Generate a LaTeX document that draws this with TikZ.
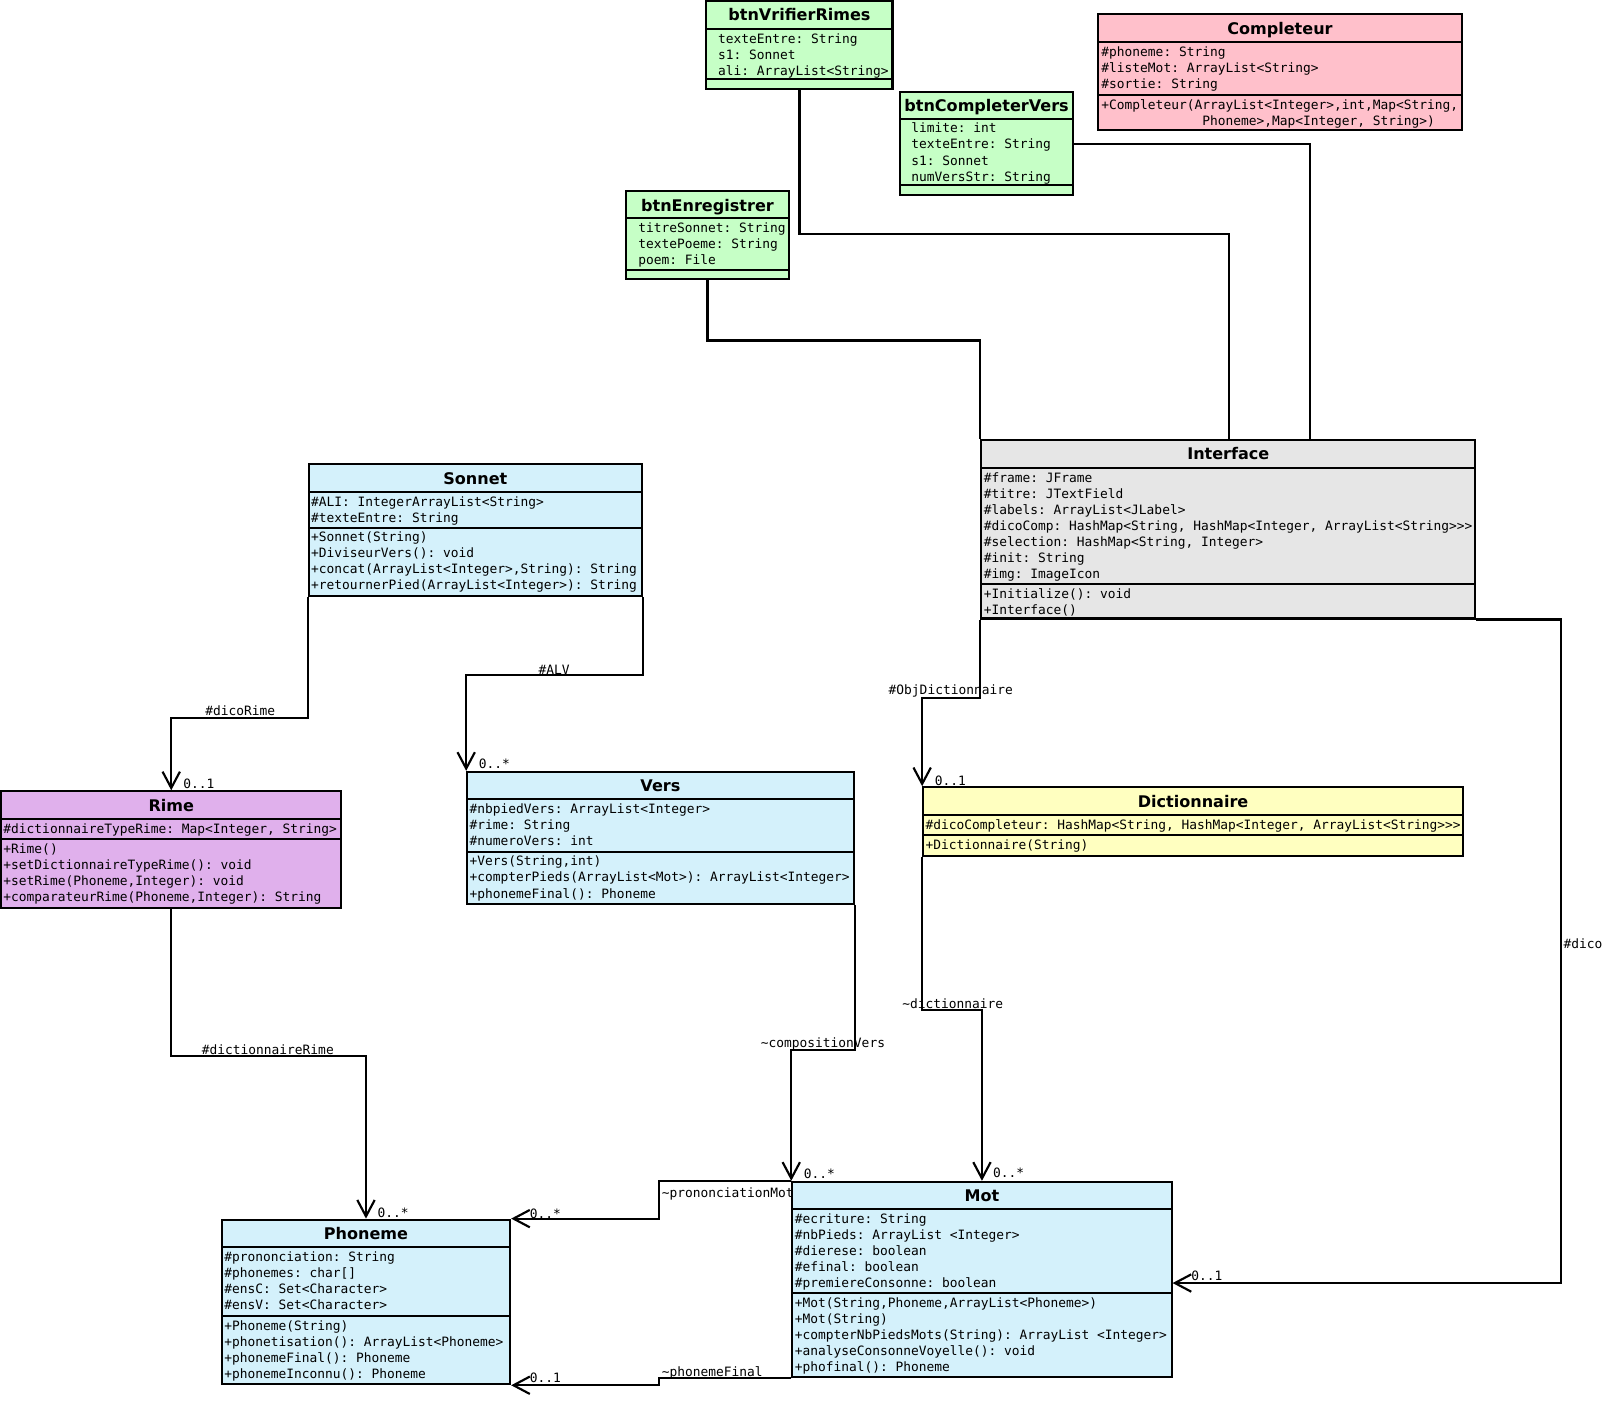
\documentclass[tikz,border=0pt]{standalone}
\usepackage{fontspec}
\setmonofont{DejaVu Sans Mono}
\newfontfamily\titlefont{DejaVu Sans}[BoldFont={DejaVu Sans Bold}]
\usetikzlibrary{arrows.meta,fit,calc}
\definecolor{cgreen}{RGB}{198,255,198}
\definecolor{cpink}{RGB}{255,192,203}
\definecolor{cgray}{RGB}{230,230,230}
\definecolor{cblue}{RGB}{212,241,251}
\definecolor{clilac}{RGB}{224,176,236}
\definecolor{cyellow}{RGB}{255,255,192}
\tikzset{
  classbox/.style={draw=black,line width=1pt,inner sep=0pt},
  boxline/.style={draw=black,line width=1pt},
  titletext/.style={font=\titlefont\bfseries\fontsize{7.85}{9}\selectfont,inner sep=0pt},
  membertext/.style={font=\ttfamily\fontsize{6.3}{7.85}\selectfont,inner sep=0pt,align=left},
  lbl/.style={font=\ttfamily\fontsize{6.3}{7.85}\selectfont,inner sep=0pt},
  conn/.style={draw=black,line width=1.05pt},
  arr/.style={conn,-{Straight Barb[length=8pt,width=8.5pt,line width=1.05pt]}},
}
\newcommand\umlbox[9]{%
  \node[classbox,fill=#8,fit={(#2,#3) (#4,#5)}] (#1) {};
  \draw[boxline] (#2,#6) -- (#4,#6);
  \draw[boxline] (#2,#7) -- (#4,#7);
  \node[titletext,anchor=base] (#1-t) at ({(#2+#4)/2},{#3+19.5}) {#9};
}
% name, x, first baseline, number of lines, text
\newcommand\members[5]{%
  \node[membertext,anchor=base west] (#1) at (#2,{#3+(#4-1)*15.7}) {#5};
}
\begin{document}
\begin{tikzpicture}[x=0.5pt,y=-0.5pt]
\useasboundingbox[fill=white] (0,0) rectangle (1568,1372);

% ---------- classes ----------
\umlbox{vr}{691}{1}{873}{87}{28}{77}{cgreen}{btnVrifierRimes}
\members{vr-a}{702}{42.5}{3}{texteEntre: String\\s1: Sonnet\\ali: ArrayList<String>}

\umlbox{comp}{1074}{14}{1430}{127}{41}{93}{cpink}{Completeur}
\members{comp-a}{1077}{55}{3}{\#phoneme: String\\\#listeMot: ArrayList<String>\\\#sortie: String}
\members{comp-m}{1077}{107}{2}{+Completeur(ArrayList<Integer>,int,Map<String,\\\phantom{xxxxxxxxxxxxx}Phoneme>,Map<Integer, String>)}

\umlbox{cv}{880}{90}{1050}{191}{116}{181}{cgreen}{btnCompleterVers}
\members{cv-a}{891}{130}{4}{limite: int\\texteEntre: String\\s1: Sonnet\\numVersStr: String}

\umlbox{en}{612}{187}{772}{273}{213}{264}{cgreen}{btnEnregistrer}
\members{en-a}{624}{227}{3}{titreSonnet: String\\textePoeme: String\\poem: File}

\umlbox{iface}{960}{430}{1443}{605}{458}{571}{cgray}{Interface}
\members{iface-a}{962}{472}{7}{\#frame: JFrame\\\#titre: JTextField\\\#labels: ArrayList<JLabel>\\\#dicoComp: HashMap<String, HashMap<Integer, ArrayList<String>{}>{}>\\\#selection: HashMap<String, Integer>\\\#init: String\\\#img: ImageIcon}
\members{iface-m}{962}{585}{2}{+Initialize(): void\\+Interface()}

\umlbox{son}{302}{454}{628}{583}{481}{516}{cblue}{Sonnet}
\members{son-a}{304}{495}{2}{\#ALI: IntegerArrayList<String>\\\#texteEntre: String}
\members{son-m}{304}{530}{4}{+Sonnet(String)\\+DiviseurVers(): void\\+concat(ArrayList<Integer>,String): String\\+retournerPied(ArrayList<Integer>): String}

\umlbox{rime}{1}{774}{334}{888}{801}{821}{clilac}{Rime}
\members{rime-a}{3}{815}{1}{\#dictionnaireTypeRime: Map<Integer, String>}
\members{rime-m}{3}{835}{4}{+Rime()\\+setDictionnaireTypeRime(): void\\+setRime(Phoneme,Integer): void\\+comparateurRime(Phoneme,Integer): String}

\umlbox{vers}{457}{755}{835}{884}{782}{833}{cblue}{Vers}
\members{vers-a}{459}{796}{3}{\#nbpiedVers: ArrayList<Integer>\\\#rime: String\\\#numeroVers: int}
\members{vers-m}{459}{847}{3}{+Vers(String,int)\\+compterPieds(ArrayList<Mot>): ArrayList<Integer>\\+phonemeFinal(): Phoneme}

\umlbox{dict}{903}{770}{1431}{837}{797}{817}{cyellow}{Dictionnaire}
\members{dict-a}{905}{811}{1}{\#dicoCompleteur: HashMap<String, HashMap<Integer, ArrayList<String>{}>{}>}
\members{dict-m}{905}{831}{1}{+Dictionnaire(String)}

\umlbox{ph}{217}{1193}{499}{1354}{1220}{1287}{cblue}{Phoneme}
\members{ph-a}{219}{1234}{4}{\#prononciation: String\\\#phonemes: char[]\\\#ensC: Set<Character>\\\#ensV: Set<Character>}
\members{ph-m}{219}{1301}{4}{+Phoneme(String)\\+phonetisation(): ArrayList<Phoneme>\\+phonemeFinal(): Phoneme\\+phonemeInconnu(): Phoneme}

\umlbox{mot}{775}{1156}{1146}{1347}{1183}{1265}{cblue}{Mot}
\members{mot-a}{777}{1197}{5}{\#ecriture: String\\\#nbPieds: ArrayList <Integer>\\\#dierese: boolean\\\#efinal: boolean\\\#premiereConsonne: boolean}
\members{mot-m}{777}{1279}{5}{+Mot(String,Phoneme,ArrayList<Phoneme>)\\+Mot(String)\\+compterNbPiedsMots(String): ArrayList <Integer>\\+analyseConsonneVoyelle(): void\\+phofinal(): Phoneme}

% ---------- connectors ----------
\draw[conn] (vr.south) |- (1202,229) -- (1202,0 |- iface.north);
\draw[conn] (cv.east) -| (1281,0 |- iface.north);
\draw[conn] (en.south) |- (iface.north west |- 0,333) -- (iface.north west);

\draw[arr] (iface.south west) -- (iface.south west |- 0,683) -| (dict.north west);
\node[lbl,anchor=base] (l1) at (930,679.5) {\#ObjDictionnaire};
\node[lbl,anchor=base west] (m1) at (914,768.5) {0..1};

\draw[arr] (iface.south east) -| (1527,1255) -- (mot.east |- 0,1255);
\node[lbl,anchor=base west] (l2) at (1529,928) {\#dico};
\node[lbl,anchor=base west] (m2) at (1165,1253) {0..1};

\draw[arr] (son.south west) |- (rime.north |- 0,702) -- (rime.north);
\node[lbl,anchor=base] (l3) at (235,699.5) {\#dicoRime};
\node[lbl,anchor=base west] (m3) at (179,771.5) {0..1};

\draw[arr] (son.south east) |- (vers.north west |- 0,660) -- (vers.north west);
\node[lbl,anchor=base] (l4) at (542,659.5) {\#ALV};
\node[lbl,anchor=base west] (m4) at (468,751.5) {0..*};

\draw[arr] (rime.south) |- (ph.north |- 0,1033) -- (ph.north);
\node[lbl,anchor=base] (l5) at (262,1031) {\#dictionnaireRime};
\node[lbl,anchor=base west] (m5) at (369,1190.5) {0..*};

\draw[arr] (vers.south east) |- (mot.north west |- 0,1027) -- (mot.north west);
\node[lbl,anchor=base] (l6) at (805,1025) {\string~compositionVers};
\node[lbl,anchor=base west] (m6) at (786,1152.5) {0..*};

\draw[arr] (dict.south west) |- (mot.north |- 0,988) -- (mot.north);
\node[lbl,anchor=base] (l7) at (932,986) {\string~dictionnaire};
\node[lbl,anchor=base west] (m7) at (971,1151.5) {0..*};

\draw[arr] (mot.north west) -| (645,0 |- ph.north east) -- (ph.north east);
\node[lbl,anchor=base west] (l8) at (647,1171) {\string~prononciationMot};
\node[lbl,anchor=base west] (m8) at (518,1192) {0..*};

\draw[arr] (mot.south west) -| (645,0 |- ph.south east) -- (ph.south east);
\node[lbl,anchor=base west] (l9) at (647,1346.5) {\string~phonemeFinal};
\node[lbl,anchor=base west] (m9) at (518,1352) {0..1};
\end{tikzpicture}
\end{document}
